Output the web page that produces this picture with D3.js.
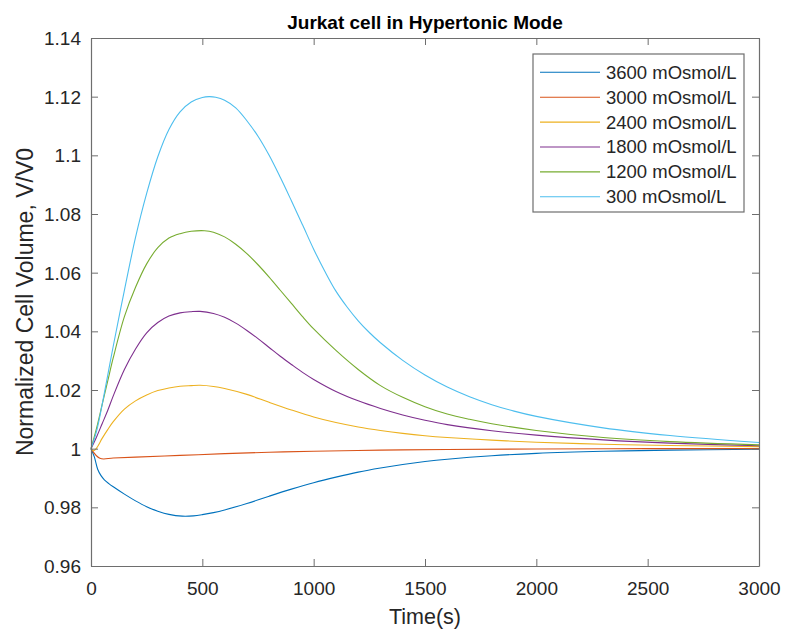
<!DOCTYPE html>
<html>
<head>
<meta charset="utf-8">
<script src="https://cdn.jsdelivr.net/npm/d3@7"></script>
<style>
  html, body { margin: 0; padding: 0; background: #fff; }
  svg { display: block; font-family: "Liberation Sans", Arial, Helvetica, sans-serif; }
</style>
</head>
<body>
<svg id="chart" width="786" height="631"></svg>
<script>
// ---- data ----
const seriesLabels = ["3600 mOsmol/L", "3000 mOsmol/L", "2400 mOsmol/L", "1800 mOsmol/L", "1200 mOsmol/L", "300 mOsmol/L"];
const seriesColors = ["#0072BD", "#D95319", "#EDB120", "#7E2F8E", "#77AC30", "#4DBEEE"];

const t3600 = [0, 15, 30, 45, 60, 80, 100, 150, 200, 250, 300, 350, 410, 460, 500, 550, 600, 700, 800, 900, 1000, 1100, 1200, 1300, 1400, 1500, 1600, 1800, 2000, 2300, 2600, 3000];
const v3600 = [1.0, 0.9972, 0.993, 0.9908, 0.9894, 0.9881, 0.987, 0.9845, 0.9822, 0.9802, 0.9787, 0.9776, 0.977, 0.9771, 0.9775, 0.9782, 0.9791, 0.9813, 0.9838, 0.9862, 0.9884, 0.9903, 0.992, 0.9934, 0.9946, 0.9956, 0.9964, 0.9976, 0.9984, 0.9991, 0.9995, 0.9998];

const t3000 = [0, 40, 100, 200, 400, 600, 800, 1000, 1300, 1600, 2000, 2500, 3000];
const v3000 = [1.0, 0.9967, 0.9968, 0.9971, 0.9977, 0.9983, 0.9988, 0.9991, 0.9995, 0.9997, 0.9999, 1.0, 1.0];

const t2400 = [0, 12, 25, 50, 75, 100, 150, 200, 250, 300, 350, 400, 450, 490, 550, 600, 700, 800, 900, 1000, 1100, 1200, 1300, 1400, 1500, 1600, 1800, 2000, 2300, 2600, 3000];
const v2400 = [1.0, 0.9993, 1.0002, 1.0035, 1.0065, 1.0092, 1.0135, 1.0163, 1.0183, 1.0198, 1.0207, 1.0213, 1.0215, 1.0216, 1.0212, 1.0205, 1.0185, 1.0158, 1.0132, 1.0108, 1.0089, 1.0074, 1.0062, 1.0052, 1.0044, 1.0038, 1.0029, 1.0022, 1.0015, 1.0011, 1.0007];

const t1800 = [0, 25, 50, 75, 100, 150, 200, 250, 300, 350, 400, 450, 490, 550, 600, 650, 700, 750, 800, 850, 900, 950, 1000, 1100, 1200, 1300, 1400, 1500, 1600, 1800, 2000, 2300, 2600, 3000];
const v1800 = [1.0, 1.004, 1.0085, 1.013, 1.018, 1.027, 1.034, 1.0395, 1.043, 1.0452, 1.0463, 1.0467, 1.0468, 1.0461, 1.0448, 1.0428, 1.0403, 1.0375, 1.0345, 1.0315, 1.0287, 1.026, 1.0236, 1.0195, 1.0163, 1.0137, 1.0115, 1.0097, 1.0082, 1.0061, 1.0046, 1.003, 1.0019, 1.001];

const t1200 = [0, 25, 50, 75, 100, 150, 200, 250, 300, 350, 400, 450, 510, 550, 600, 650, 700, 750, 800, 850, 900, 950, 1000, 1100, 1200, 1300, 1400, 1500, 1600, 1700, 1800, 2000, 2300, 2600, 3000];
const v1200 = [1.0, 1.007, 1.015, 1.023, 1.031, 1.045, 1.055, 1.063, 1.0685, 1.0718, 1.0733, 1.0741, 1.0743, 1.0738, 1.0722, 1.0697, 1.0665, 1.0627, 1.0585, 1.054, 1.0495, 1.045, 1.0408, 1.0335, 1.027, 1.0215, 1.0175, 1.0143, 1.0118, 1.01, 1.0085, 1.0062, 1.0038, 1.0024, 1.0013];

const t300 = [0, 25, 50, 75, 100, 150, 200, 250, 300, 350, 400, 450, 500, 530, 560, 600, 650, 700, 750, 800, 850, 900, 950, 1000, 1050, 1100, 1150, 1200, 1250, 1300, 1400, 1500, 1600, 1700, 1800, 1900, 2000, 2300, 2600, 3000];
const v300 = [1.0, 1.006, 1.015, 1.025, 1.035, 1.054, 1.072, 1.087, 1.0995, 1.1088, 1.1148, 1.1182, 1.1197, 1.12, 1.1198, 1.1188, 1.1162, 1.1118, 1.1065, 1.1, 1.0925, 1.0845, 1.0763, 1.068, 1.0605, 1.0537, 1.0483, 1.0436, 1.0396, 1.0361, 1.0301, 1.0251, 1.021, 1.0177, 1.015, 1.0128, 1.011, 1.0071, 1.0045, 1.0021];

const seriesT = [t3600, t3000, t2400, t1800, t1200, t300];
const seriesV = [v3600, v3000, v2400, v1800, v1200, v300];

const xTicks = [0, 500, 1000, 1500, 2000, 2500, 3000];
const yTicks = [0.96, 0.98, 1, 1.02, 1.04, 1.06, 1.08, 1.1, 1.12, 1.14];
const yTickLabels = ["0.96", "0.98", "1", "1.02", "1.04", "1.06", "1.08", "1.1", "1.12", "1.14"];

const titleText = "Jurkat cell in Hypertonic Mode";
const xLabelText = "Time(s)";
const yLabelText = "Normalized Cell Volume, V/V0";

// ---- layout ----
const L = 91, R = 759, T = 38, B = 566;
const svg = d3.select("#chart");
const x = d3.scaleLinear().domain([0, 3000]).range([L, R]);
const y = d3.scaleLinear().domain([0.96, 1.14]).range([B, T]);
const axisColor = "#6e6e6e";
const textColor = "#262626";

svg.append("rect").attr("x", L).attr("y", T).attr("width", R - L).attr("height", B - T).attr("fill", "#fff");

// lines
const line = d3.line().x(d => x(d[0])).y(d => y(d[1])).curve(d3.curveCatmullRom.alpha(0.5));
const g = svg.append("g");
seriesT.forEach((ts, i) => {
  const pts = ts.map((t, j) => [t, seriesV[i][j]]);
  g.append("path").datum(pts).attr("d", line)
    .attr("fill", "none").attr("stroke", seriesColors[i]).attr("stroke-width", 1.1)
    .attr("stroke-linejoin", "round");
});

// axes (ticks inward, box on)
const tickLen = 7;
const axB = svg.append("g").attr("transform", `translate(0,${B})`)
  .call(d3.axisBottom(x).tickValues(xTicks).tickSizeInner(-tickLen).tickSizeOuter(0).tickPadding(16).tickFormat(d3.format("d")));
const axT = svg.append("g").attr("transform", `translate(0,${T})`)
  .call(d3.axisTop(x).tickValues(xTicks).tickSizeInner(-tickLen).tickSizeOuter(0).tickFormat(""));
const axL = svg.append("g").attr("transform", `translate(${L},0)`)
  .call(d3.axisLeft(y).tickValues(yTicks).tickSizeInner(-tickLen).tickSizeOuter(0).tickPadding(10).tickFormat((d, i) => yTickLabels[i]));
const axR = svg.append("g").attr("transform", `translate(${R},0)`)
  .call(d3.axisRight(y).tickValues(yTicks).tickSizeInner(-tickLen).tickSizeOuter(0).tickFormat(""));

[axB, axT, axL, axR].forEach(a => {
  a.selectAll("path.domain").attr("stroke", axisColor).attr("stroke-width", 1.2);
  a.selectAll(".tick line").attr("stroke", axisColor).attr("stroke-width", 1);
  a.selectAll(".tick text").attr("fill", textColor).style("font-size", "19px")
    .style("font-family", '"Liberation Sans", Arial, sans-serif');
});
axB.selectAll(".tick text").attr("dy", "0.71em");
axL.selectAll(".tick text").attr("dy", "0.34em");

// titles
svg.append("text").attr("x", (L + R) / 2).attr("y", 29).attr("text-anchor", "middle")
  .attr("fill", "#000").style("font-size", "19px").style("font-weight", "bold").text(titleText);
svg.append("text").attr("x", (L + R) / 2).attr("y", 624).attr("text-anchor", "middle")
  .attr("fill", textColor).style("font-size", "21.5px").text(xLabelText);
svg.append("text").attr("transform", `translate(33,${(T + B) / 2}) rotate(-90)`).attr("text-anchor", "middle")
  .attr("fill", textColor).style("font-size", "23px").text(yLabelText);

// legend
const lgX = 533, lgY = 54, lgW = 211, lgH = 158;
const lg = svg.append("g");
lg.append("rect").attr("x", lgX).attr("y", lgY).attr("width", lgW).attr("height", lgH)
  .attr("fill", "#fff").attr("stroke", axisColor).attr("stroke-width", 1.2);
seriesLabels.forEach((lab, i) => {
  const cy = 72.3 + i * 24.9;
  lg.append("line").attr("x1", 540).attr("x2", 600).attr("y1", cy).attr("y2", cy)
    .attr("stroke", seriesColors[i]).attr("stroke-width", 1.1);
  lg.append("text").attr("x", 606).attr("y", cy).attr("dy", "0.35em")
    .attr("fill", textColor).style("font-size", "18.5px").text(lab);
});
</script>
</body>
</html>
